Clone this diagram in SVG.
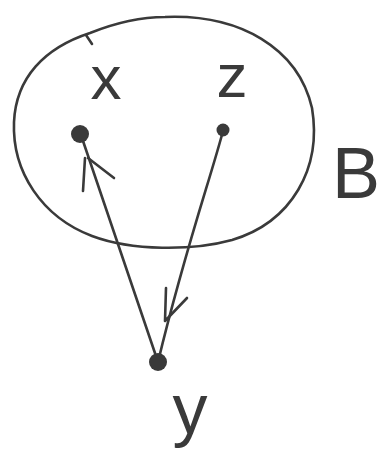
<svg xmlns="http://www.w3.org/2000/svg" width="381" height="450" viewBox="0 0 381 450">
<style>
.ln{fill:none;stroke:#3a3a3a;stroke-width:2.6;stroke-linecap:round;stroke-linejoin:round}
.dot{fill:#3a3a3a}
.lbl{font-family:"Liberation Sans",Arial,sans-serif;fill:#3a3a3a;text-anchor:middle}
</style>
<rect width="381" height="450" fill="#ffffff"/>
<g id="B">
<path class="ln" d="M165 17 C240 14,298 48,312 108 C322 168,292 222,232 240 C192 251,132 251,92 236 C42 217,12 172,14 122 C16 78,44 48,90 33 C115 23,140 17,165 17 Z"/>
<path class="ln" d="M86 35 L92 44"/>
<text class="lbl" x="332" y="198" font-size="72" style="text-anchor:start">B</text>
</g>
<g id="connectors">
<path class="ln" d="M158 362 L82 138"/>
<path class="ln" d="M85 158 L83 191 M88 158 L114 178"/>
<path class="ln" d="M223 131 C210 180,185 250,158 362"/>
<path class="ln" d="M166 288 L165 321 L187 298"/>
</g>
<g id="x">
<circle class="dot" cx="80" cy="134" r="9"/>
<text class="lbl" x="106" y="99" font-size="62">x</text>
</g>
<g id="z">
<circle class="dot" cx="223" cy="130" r="6.5"/>
<text class="lbl" x="232" y="97" font-size="62">z</text>
</g>
<g id="y">
<circle class="dot" cx="158" cy="362" r="9"/>
<text class="lbl" x="190" y="433" font-size="70">y</text>
</g>
</svg>
